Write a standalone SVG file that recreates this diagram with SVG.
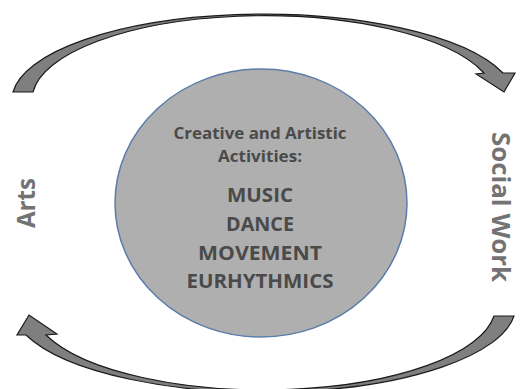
<svg xmlns="http://www.w3.org/2000/svg" width="523" height="389" viewBox="0 0 523 389">
<style>
.arrow{fill:#7f7f7f;stroke:#1a1a1a;stroke-width:1.2;stroke-linejoin:miter}
.inner{font-family:"Open Sans","Liberation Sans",sans-serif;font-weight:bold;fill:#4a4a4a;text-anchor:middle}
.side{font-family:"Open Sans","Liberation Sans",sans-serif;font-weight:bold;fill:#737373;text-anchor:middle;font-size:25px}
</style>
<rect width="523" height="389" fill="#ffffff"/>
<g id="connectors">
<path id="arrow-top" class="arrow" d="M 13 92 A 252 86 0 0 1 503 73 L 515 73 L 504 92 L 476 74 L 484 73 A 232 84 0 0 0 33 92 Z"/>
<path id="arrow-bottom" class="arrow" d="M 514 316 A 252 86 0 0 1 26 335 L 17 335 L 29 315 L 57 334 L 46 335 A 232 84 0 0 0 494 316 Z"/>
</g>
<g id="center">
<ellipse cx="261" cy="203" rx="146" ry="134" fill="#afafaf" stroke="#5a7caa" stroke-width="1.5"/>
<text class="inner" x="260" y="139" font-size="16" textLength="173" lengthAdjust="spacingAndGlyphs">Creative and Artistic</text>
<text class="inner" x="260" y="162" font-size="16" textLength="84" lengthAdjust="spacingAndGlyphs">Activities:</text>
<text class="inner" x="260" y="202" font-size="20" textLength="66" lengthAdjust="spacingAndGlyphs">MUSIC</text>
<text class="inner" x="260" y="231" font-size="20" textLength="68" lengthAdjust="spacingAndGlyphs">DANCE</text>
<text class="inner" x="260" y="260" font-size="20" textLength="124" lengthAdjust="spacingAndGlyphs">MOVEMENT</text>
<text class="inner" x="260" y="288" font-size="20" textLength="147" lengthAdjust="spacingAndGlyphs">EURHYTHMICS</text>
</g>
<g id="arts">
<text class="side" transform="translate(35,203) rotate(-90)" x="0" y="0" textLength="50" lengthAdjust="spacingAndGlyphs">Arts</text>
</g>
<g id="social-work">
<text class="side" transform="translate(492,207) rotate(90)" x="0" y="0" textLength="150" lengthAdjust="spacingAndGlyphs">Social Work</text>
</g>
</svg>
